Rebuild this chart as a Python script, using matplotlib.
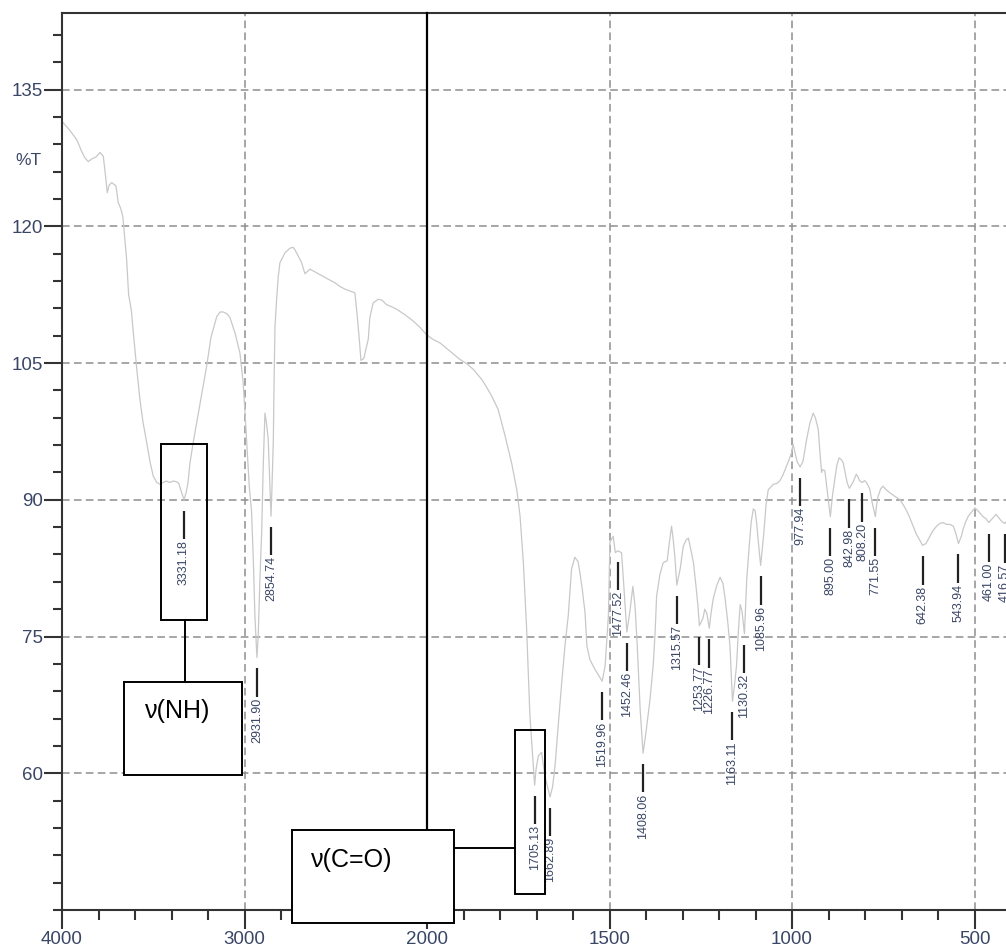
import numpy as np
import matplotlib
matplotlib.use("Agg")
import matplotlib.pyplot as plt
from matplotlib.ticker import FixedLocator
from matplotlib.patches import Rectangle

# ---- IR spectrum (wavenumber in cm-1, transmittance in %T) ----
wavenumber = [
    4000, 3960, 3919, 3892, 3874, 3856, 3836, 3814, 3792, 3774, 3764, 3752,
    3742, 3728, 3715, 3704, 3692, 3679, 3667, 3660, 3646, 3635, 3620, 3609,
    3591, 3573, 3556, 3536, 3518, 3500, 3481, 3463, 3447, 3428, 3410, 3390,
    3375, 3360, 3348, 3331.18, 3320, 3310, 3299, 3281, 3244, 3207, 3184, 3152,
    3134, 3116, 3096, 3080, 3052, 3025, 3008, 2997, 2988, 2974, 2961, 2951,
    2943, 2931.90, 2925, 2916, 2906, 2897, 2888, 2880, 2870, 2854.74, 2850,
    2842, 2838, 2833, 2824, 2815, 2806, 2778, 2751, 2734, 2723, 2707, 2687,
    2669, 2641, 2614, 2586, 2559, 2532, 2504, 2477, 2449, 2422, 2395, 2382,
    2371, 2362, 2346, 2335, 2322, 2313, 2295, 2267, 2247, 2221, 2197, 2166,
    2121, 2075, 2038, 2002, 1984, 1964, 1937, 1910, 1890, 1873, 1850, 1836,
    1823, 1805, 1786, 1768, 1754, 1745, 1736, 1727, 1718, 1705.13, 1701, 1695,
    1686, 1677, 1662.89, 1656, 1649, 1641, 1631, 1622, 1613, 1604, 1595, 1586,
    1581, 1574, 1567, 1562, 1554, 1540, 1519.96, 1512, 1503, 1501, 1499, 1490,
    1484, 1477.52, 1467, 1462, 1456, 1452.46, 1444, 1436, 1430, 1424, 1416,
    1408.06, 1400, 1389, 1380, 1375, 1371, 1362, 1353, 1342, 1337, 1330, 1325,
    1321, 1315.57, 1306, 1298, 1290, 1284, 1277, 1270, 1263, 1258, 1253.77,
    1244, 1239, 1233, 1226.77, 1222, 1216, 1207, 1197, 1189, 1184, 1177, 1170,
    1163.11, 1158, 1152, 1147, 1142, 1137, 1130.32, 1124, 1118, 1112, 1106,
    1101, 1097, 1092, 1085.96, 1078, 1071, 1065, 1051, 1041, 1033, 1025, 1015,
    1008, 1001, 997, 992, 986, 977.94, 970, 960, 951, 942, 936, 928, 924, 919,
    916, 910, 902, 895.00, 889, 883, 877, 871, 865, 860, 854, 849, 842.98, 832,
    824, 819, 815, 808.20, 801, 796, 787, 781, 771.55, 768, 764, 757, 751, 742,
    733, 719, 704, 696, 686, 677, 668, 659, 649, 642.38, 633, 622, 614, 604,
    595, 586, 577, 567, 558, 551, 543.94, 536, 531, 524, 517, 509, 499, 493,
    486, 478, 468, 461.00, 450, 441, 433, 425, 416.57, 410, 400,
]
transmittance = [
    131.5, 130.6, 129.5, 128.2, 127.5, 127.1, 127.4, 127.6, 128.1, 127.7, 126.0, 123.7,
    124.5, 124.8, 124.6, 124.4, 122.6, 122.0, 121.1, 119.6, 116.4, 112.5, 110.8, 108.3,
    104.5, 101.0, 98.5, 96.3, 94.2, 92.6, 91.9, 91.7, 91.9, 92.05, 91.9, 92.05,
    92.0, 91.8, 91.0, 90.0, 90.8, 91.8, 94.0, 96.3, 100.5, 104.7, 107.8, 110.1,
    110.6, 110.6, 110.4, 110.0, 108.3, 106.1, 103.0, 99.5, 96.3, 91.5, 88.6, 83.0,
    77.3, 72.7, 75.0, 81.0, 86.4, 94.0, 99.5, 98.5, 96.6, 88.2, 91.0,
    96.6, 103.0, 109.0, 112.0, 114.5, 116.0, 117.1, 117.6, 117.7, 117.4, 116.8, 116.0,
    114.8, 115.3, 115.0, 114.7, 114.4, 114.1, 113.8, 113.4, 113.1, 112.9, 112.7, 110.1,
    107.6, 105.3, 105.5, 106.5, 107.6, 110.0, 111.6, 112.0, 111.9, 111.4, 111.2, 110.9,
    110.3, 109.6, 108.9, 108.1, 107.6, 107.2, 106.3, 105.4, 104.9, 104.3, 103.2, 102.3,
    101.4, 99.9, 97.0, 94.0, 91.1, 88.2, 83.1, 75.8, 66.3, 58.7, 60.5, 61.9,
    62.3, 59.7, 57.4, 58.5, 60.9, 65.0, 69.9, 74.0, 77.3, 82.4, 83.7, 83.2,
    82.0, 80.0, 77.6, 74.0, 72.5, 71.4, 70.1, 71.8, 77.3, 81.0, 85.3, 86.0,
    84.2, 84.4, 84.2, 81.3, 77.6, 75.5, 77.8, 80.5, 78.3, 74.0, 67.0,
    62.2, 64.5, 68.1, 72.0, 75.5, 79.4, 81.8, 83.1, 83.3, 85.0, 87.1, 85.5,
    83.8, 80.65, 82.5, 84.9, 85.6, 85.8, 84.5, 83.1, 80.5, 78.5, 76.2,
    77.0, 78.0, 77.5, 75.9, 77.5, 79.1, 80.5, 81.5, 80.8, 79.4, 77.0, 74.0,
    67.9, 69.5, 71.8, 75.5, 78.5, 77.8, 75.3, 81.3, 84.5, 87.5, 89.0,
    88.8, 87.5, 85.3, 82.8, 86.0, 89.5, 91.1, 91.7, 91.8, 92.1, 92.7, 93.7,
    94.4, 95.2, 96.1, 95.2, 94.2, 93.6, 94.2, 96.6, 98.4, 99.5, 99.0, 97.7, 95.5, 93.0,
    93.3, 93.2, 90.5, 88.15, 90.5, 92.2, 93.8, 94.6, 94.4, 94.1, 92.9, 91.9, 91.25, 92.0,
    92.8, 92.5, 92.1, 91.9, 92.1, 91.9, 91.2, 89.8, 88.15, 89.5, 90.4, 91.2, 91.5, 91.1,
    90.8, 90.4, 90.0, 89.5, 88.8, 88.0, 87.1, 86.2, 85.5, 85.0, 85.2, 86.0, 86.6, 87.1,
    87.4, 87.5, 87.3, 87.3, 87.1, 86.3, 85.2, 86.0, 86.8, 87.6, 88.2, 88.6, 89.1, 88.9,
    88.6, 88.2, 87.9, 87.5, 88.0, 88.4, 88.0, 87.6, 87.4, 87.8, 88.2,
]

# labelled absorption bands (cm-1)
peak_wavenumbers = [
    3331.18, 2931.90, 2854.74, 1705.13, 1662.89, 1519.96, 1477.52, 1452.46,
    1408.06, 1315.57, 1253.77, 1226.77, 1163.11, 1130.32, 1085.96, 977.94,
    895.00, 842.98, 808.20, 771.55, 642.38, 543.94, 461.00, 416.57,
]

x_major = [4000, 3000, 2000, 1500, 1000, 500]
x_labels = ["4000", "3000", "2000", "1500", "1000", "500"]
y_major = [60, 75, 90, 105, 120, 135]
y_labels = ["60", "75", "90", "105", "120", "135"]

# annotation groups: (wn_left, wn_right, T_bottom, T_top)
nh_group = (3458, 3204, 76.8, 96.1)
nh_label_box = (3660, 3012, 59.8, 70.05)
co_group = (1760, 1676, 46.8, 64.7)
co_label_box = (2738, 1926, 43.6, 53.8)


# wavenumber axis: 2000-4000 compressed by a factor of two
def fwd(x):
    x = np.asarray(x, dtype=float)
    return np.where(x > 2000, 2000 + (x - 2000) / 2.0, x)


def inv(t):
    t = np.asarray(t, dtype=float)
    return np.where(t > 2000, 2000 + (t - 2000) * 2.0, t)


LABEL_COLOR = "#3a4666"
AXIS_COLOR = "#333333"
plt.rcParams["font.family"] = ["Liberation Sans", "DejaVu Sans"]

fig = plt.figure(figsize=(10.06, 9.51), dpi=100)
ax = fig.add_axes([62 / 1006, 41 / 951, 949 / 1006, 897 / 951])
ax.set_xscale("function", functions=(fwd, inv))
ax.set_xlim(4000, 400)
ax.set_ylim(45, 143.4)

# ticks
ax.xaxis.set_major_locator(FixedLocator(x_major))
ax.set_xticklabels(x_labels)
ax.xaxis.set_minor_locator(FixedLocator(
    list(np.arange(4000, 2000, -200)) + list(np.arange(2000, 399, -100))))
ax.yaxis.set_major_locator(FixedLocator(y_major))
ax.set_yticklabels(y_labels)
ax.yaxis.set_minor_locator(FixedLocator(list(np.arange(45, 144, 3))))
ax.tick_params(which="major", direction="out", color=AXIS_COLOR, width=1.5,
               labelsize=13.5, labelcolor=LABEL_COLOR, pad=1)
ax.tick_params(axis="x", which="major", length=14)
ax.tick_params(axis="y", which="major", length=12.7)
ax.tick_params(axis="x", which="minor", direction="out", color=AXIS_COLOR,
               width=1.5, length=7.2)
ax.tick_params(axis="y", which="minor", direction="out", color=AXIS_COLOR,
               width=1.5, length=6.7)
for side in ("left", "bottom", "top", "right"):
    ax.spines[side].set_color(AXIS_COLOR)
    ax.spines[side].set_linewidth(1.5)

ax.grid(True, which="major", color="#8e8e8e", linewidth=1.1,
        linestyle=(0, (5.0, 2.8)))

ax.annotate("%T", xy=(0, 127.2), xycoords=("axes fraction", "data"),
            xytext=(-14.5, 0), textcoords="offset points",
            ha="right", va="center", fontsize=12.5, color=LABEL_COLOR)

# spectrum
ax.plot(wavenumber, transmittance, color="#c8c8c8", linewidth=0.9, zorder=2)

# peak markers with wavenumber labels
wn_asc = np.array(wavenumber[::-1])
t_asc = np.array(transmittance[::-1])
peak_t = np.interp(peak_wavenumbers, wn_asc, t_asc)
gap, length = 1.2, 3.1
for wn, t in zip(peak_wavenumbers, peak_t):
    top = t - gap
    bottom = top - length
    ax.plot([wn, wn], [top, bottom], color="#222222", linewidth=1.6,
            solid_capstyle="butt", zorder=3, clip_on=False)
    ax.text(wn, bottom - 0.1, f"{wn:.2f}", rotation=90, ha="center", va="top",
            fontsize=9, color=LABEL_COLOR, zorder=3, clip_on=False)


def box(spec, filled, z=5):
    x0, x1, y0, y1 = spec
    ax.add_patch(Rectangle((x0, y0), x1 - x0, y1 - y0,
                           facecolor="white" if filled else "none",
                           edgecolor="black", linewidth=1.4,
                           zorder=z, clip_on=False))


# N-H stretching annotation
box(nh_group, False)
box(nh_label_box, True)
ax.plot([3326, 3326], [nh_group[2], nh_label_box[3]], color="black",
        linewidth=1.4, zorder=5)
ax.text(3366, 66.8, "ν(NH)", ha="center", va="center", fontsize=18,
        color="black", zorder=6)

# C=O stretching annotation
box(co_group, False)
box(co_label_box, True, z=6)
ax.plot([co_label_box[1], co_group[0]], [51.8, 51.8], color="black",
        linewidth=1.4, zorder=5)
ax.plot([2000, 2000], [143.4, co_label_box[3]], color="black",
        linewidth=1.6, zorder=5, clip_on=False)
ax.text(2411, 50.5, "ν(C=O)", ha="center", va="center", fontsize=18,
        color="black", zorder=7)

fig.savefig("out.png", dpi=100)
